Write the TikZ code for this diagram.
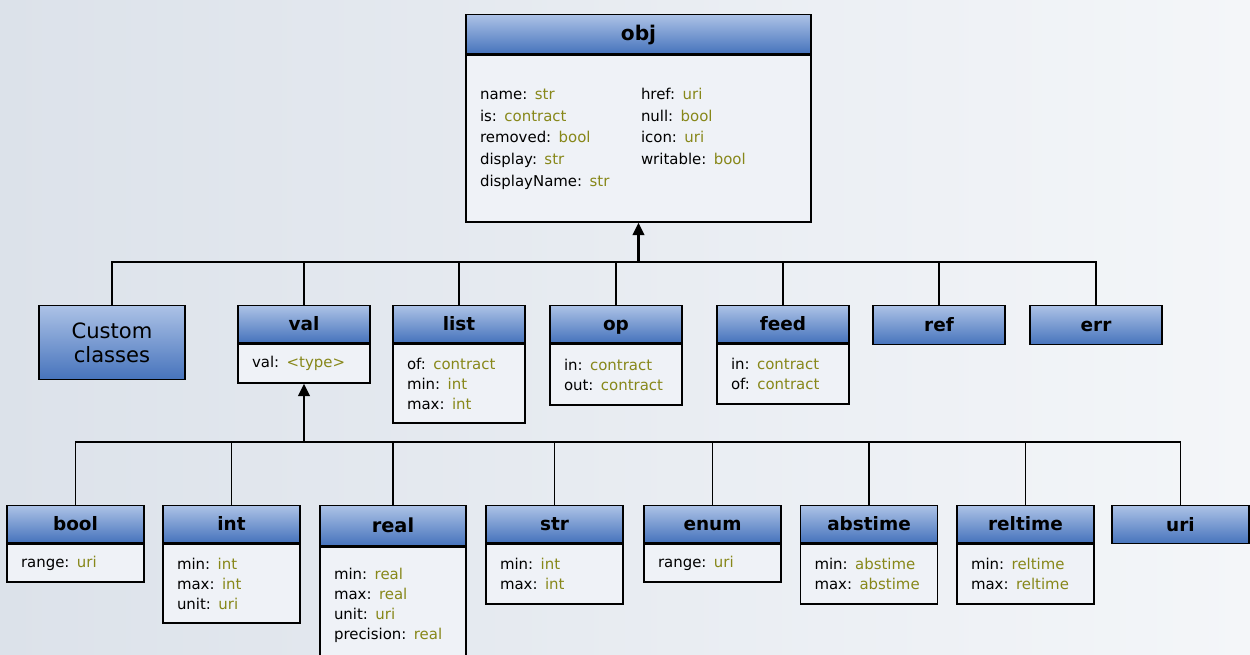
\documentclass[tikz,border=0pt]{standalone}
\usepackage{fontspec}
\setmainfont{DejaVu Sans}
\usepackage{xcolor}
\usetikzlibrary{arrows.meta}

\definecolor{headtop}{RGB}{172,194,230}
\definecolor{headbot}{RGB}{70,115,188}
\definecolor{typecol}{RGB}{135,135,25}
\definecolor{bodyfill}{RGB}{239,242,247}
\definecolor{bgleft}{RGB}{220,226,234}
\definecolor{bgright}{RGB}{244,246,249}

\newcommand{\ty}[1]{\textcolor{typecol}{#1}}

\tikzset{
  classhead/.style={draw=black, line width=0.8pt, top color=headtop, bottom color=headbot,
    minimum width=#1, minimum height=0.74cm, inner sep=0pt, anchor=north,
    text height=0.8em, text depth=0.04em,
    font=\fontsize{10.5}{12}\selectfont\bfseries},
  classbody/.style={draw=black, line width=0.8pt, fill=bodyfill, minimum width=#1,
    text width=#1-0.56cm, inner xsep=0.28cm, inner ysep=0pt, align=left, anchor=north,
    font=\fontsize{8.5}{11.4}\selectfont},
  conn/.style={line width=0.6pt},
  inherit/.style={line width=1.4pt, -{Triangle[length=7pt,width=6.5pt]}}
}

\begin{document}
\begin{tikzpicture}[x=0.02cm, y=-0.02cm]
% Background
\fill[left color=bgleft, right color=bgright] (0,0) rectangle (1250,655);
\useasboundingbox (0,0) rectangle (1250,655);
\clip (0,0) rectangle (1250,655);

% Root class
\node[classhead=6.9cm, minimum height=0.78cm, font=\fontsize{11.5}{13}\selectfont\bfseries] (obj) at (638.5,14) {obj};
\node[classbody=6.9cm, minimum height=3.34cm, font=\fontsize{8.5}{12.3}\selectfont] (obj-body) at (obj.south) {%
\begin{tabular}{@{}p{3.22cm}@{}l@{}}
name: \ty{str} & href: \ty{uri}\\
is: \ty{contract} & null: \ty{bool}\\
removed: \ty{bool} & icon: \ty{uri}\\
display: \ty{str} & writable: \ty{bool}\\
displayName: \ty{str} &
\end{tabular}};

% Second level
\node[classhead=2.92cm, minimum height=1.48cm, align=center, text height=, text depth=, font=\fontsize{12}{14}\selectfont] (custom) at (112,305) {Custom\\classes};
\node[classhead=2.64cm] (val) at (304,305) {val};
\node[classbody=2.64cm, minimum height=0.78cm] (val-body) at (val.south) {val: \ty{<type>}};
\node[classhead=2.64cm] (list) at (459,305) {list};
\node[classbody=2.64cm, minimum height=1.58cm] (list-body) at (list.south) {of: \ty{contract}\\min: \ty{int}\\max: \ty{int}};
\node[classhead=2.64cm] (op) at (616,305) {op};
\node[classbody=2.64cm, minimum height=1.22cm] (op-body) at (op.south) {in: \ty{contract}\\out: \ty{contract}};
\node[classhead=2.64cm] (feed) at (783,305) {feed};
\node[classbody=2.64cm, minimum height=1.2cm] (feed-body) at (feed.south) {in: \ty{contract}\\of: \ty{contract}};
\node[classhead=2.64cm, minimum height=0.78cm] (ref) at (939,305) {ref};
\node[classhead=2.64cm, minimum height=0.78cm] (err) at (1096,305) {err};

% Value types
\node[classhead=2.74cm] (bool) at (75.5,505) {bool};
\node[classbody=2.74cm, minimum height=0.76cm] (bool-body) at (bool.south) {range: \ty{uri}};
\node[classhead=2.74cm] (int) at (231.5,505) {int};
\node[classbody=2.74cm, minimum height=1.58cm] (int-body) at (int.south) {min: \ty{int}\\max: \ty{int}\\unit: \ty{uri}};
\node[classhead=2.92cm, minimum height=0.8cm, font=\fontsize{11}{12}\selectfont\bfseries] (real) at (393,505) {real};
\node[classbody=2.92cm, minimum height=2.32cm] (real-body) at (real.south) {min: \ty{real}\\max: \ty{real}\\unit: \ty{uri}\\precision: \ty{real}};
\node[classhead=2.74cm] (str) at (554.5,505) {str};
\node[classbody=2.74cm, minimum height=1.2cm] (str-body) at (str.south) {min: \ty{int}\\max: \ty{int}};
\node[classhead=2.74cm] (enum) at (712.5,505) {enum};
\node[classbody=2.74cm, minimum height=0.76cm] (enum-body) at (enum.south) {range: \ty{uri}};
\node[classhead=2.74cm] (abstime) at (869,505) {abstime};
\node[classbody=2.74cm, minimum height=1.2cm] (abstime-body) at (abstime.south) {min: \ty{abstime}\\max: \ty{abstime}};
\node[classhead=2.74cm] (reltime) at (1025.5,505) {reltime};
\node[classbody=2.74cm, minimum height=1.2cm] (reltime-body) at (reltime.south) {min: \ty{reltime}\\max: \ty{reltime}};
\node[classhead=2.74cm, minimum height=0.76cm] (uri) at (1180.5,505) {uri};

% Inheritance buses
\coordinate (bus1) at (638.5,262);
\coordinate (bus2) at (304,442);
\draw[conn] (custom.north) -- (custom.north |- bus1) -- (err.north |- bus1) -- (err.north);
\foreach \n in {val,list,op,feed,ref}
  \draw[conn] (\n.north) -- (\n.north |- bus1);
\draw[inherit] (bus1) -- (obj-body.south);

\draw[conn] (bool.north) -- (bool.north |- bus2) -- (uri.north |- bus2) -- (uri.north);
\foreach \n in {int,real,str,enum,abstime,reltime}
  \draw[conn] (\n.north) -- (\n.north |- bus2);
\draw[inherit] (bus2) -- (val-body.south);
\end{tikzpicture}
\end{document}
